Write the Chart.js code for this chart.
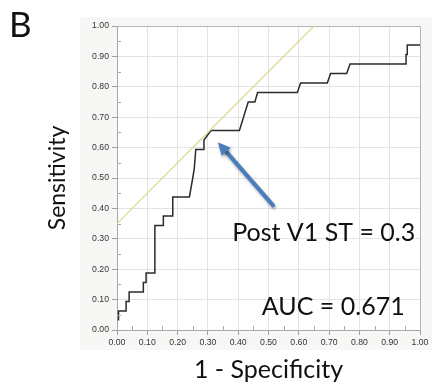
<!DOCTYPE html>
<html lang="en">
<head>
    <title>ROC - Post V1 ST</title>
    <script src="https://cdn.jsdelivr.net/npm/chart.js"></script>
    <style>
        body {
            margin: 0;
            background: #ffffff;
        }
        .chart-container {
            width: 432px;
            height: 387px;
        }
    </style>
</head>
<body>
    <div class="chart-container">
        <canvas id="rocChart"></canvas>
    </div>

    <script>
        // ROC curve (tpr in steps of 1/32)
        const rocFpr = [0.005, 0.005, 0.030, 0.030, 0.040, 0.040, 0.087, 0.087, 0.096, 0.096,
                        0.125, 0.125, 0.153, 0.153, 0.184, 0.184, 0.239, 0.250, 0.255, 0.260,
                        0.287, 0.287, 0.310, 0.404, 0.433, 0.455, 0.464, 0.595, 0.606, 0.694,
                        0.705, 0.758, 0.769, 0.954, 0.954, 0.958, 0.958, 1.000];
        const rocTpr = [0.031, 0.0625, 0.0625, 0.094, 0.094, 0.125, 0.125, 0.156, 0.156, 0.1875,
                        0.1875, 0.344, 0.344, 0.375, 0.375, 0.4375, 0.4375, 0.500, 0.531, 0.594,
                        0.594, 0.625, 0.656, 0.656, 0.750, 0.750, 0.781, 0.781, 0.8125, 0.8125,
                        0.844, 0.844, 0.875, 0.875, 0.906, 0.906, 0.9375, 0.9375];

        // tangent line through the cut-off point
        const tangentFpr = [0.00, 0.65];
        const tangentTpr = [0.35, 1.00];

        const tickValues = [0, 0.1, 0.2, 0.3, 0.4, 0.5, 0.6, 0.7, 0.8, 0.9, 1.0];

        // arrow (tail -> head) and notes, in data units
        const arrowFrom = [0.515, 0.41];
        const arrowTo = [0.333, 0.618];
        const notes = [
            { text: 'Post V1 ST = 0.3', x: 0.38, y: 0.32 },
            { text: 'AUC = 0.671', x: 0.478, y: 0.076 }
        ];
        const panelLabel = 'B';

        const toPoints = (xs, ys) => xs.map((x, i) => ({ x: x, y: ys[i] }));

        // light frame behind the plot, minor ticks, arrow and notes
        const decorations = {
            id: 'decorations',
            beforeDraw(chart) {
                const c = chart.ctx;
                c.save();
                c.fillStyle = '#f7f7f5';
                c.fillRect(80, 17, 432 - 80, 350 - 17);
                const a = chart.chartArea;
                c.fillStyle = '#ffffff';
                c.fillRect(a.left, a.top, a.right - a.left, a.bottom - a.top);
                c.restore();
            },
            afterDatasetsDraw(chart) {
                const c = chart.ctx;
                const xs = chart.scales.x, ys = chart.scales.y;
                const a = chart.chartArea;
                c.save();

                // minor ticks inside the axes
                c.strokeStyle = '#aaaaaa';
                c.lineWidth = 1;
                c.beginPath();
                tickValues.slice(0, -1).forEach(v => {
                    const px = Math.round(xs.getPixelForValue(v + 0.05)) + 0.5;
                    c.moveTo(px, a.bottom);
                    c.lineTo(px, a.bottom - 4);
                    const py = Math.round(ys.getPixelForValue(v + 0.05)) + 0.5;
                    c.moveTo(a.left, py);
                    c.lineTo(a.left + 4, py);
                });
                c.stroke();

                // arrow
                const x0 = xs.getPixelForValue(arrowFrom[0]), y0 = ys.getPixelForValue(arrowFrom[1]);
                const x1 = xs.getPixelForValue(arrowTo[0]), y1 = ys.getPixelForValue(arrowTo[1]);
                const ang = Math.atan2(y1 - y0, x1 - x0);
                const head = 14;
                c.shadowColor = 'rgba(0,0,0,0.35)';
                c.shadowBlur = 3;
                c.shadowOffsetX = 1;
                c.shadowOffsetY = 2;
                c.strokeStyle = '#4a7dbb';
                c.fillStyle = '#4a7dbb';
                c.lineWidth = 4;
                c.lineCap = 'round';
                c.beginPath();
                c.moveTo(x0, y0);
                c.lineTo(x1 - Math.cos(ang) * head * 0.8, y1 - Math.sin(ang) * head * 0.8);
                c.stroke();
                c.beginPath();
                c.moveTo(x1, y1);
                c.lineTo(x1 - head * Math.cos(ang - 0.45), y1 - head * Math.sin(ang - 0.45));
                c.lineTo(x1 - head * Math.cos(ang + 0.45), y1 - head * Math.sin(ang + 0.45));
                c.closePath();
                c.fill();
                c.shadowColor = 'transparent';

                // notes
                c.fillStyle = '#111111';
                c.font = '25px Lato';
                c.textAlign = 'left';
                c.textBaseline = 'middle';
                notes.forEach(n => {
                    c.fillText(n.text, xs.getPixelForValue(n.x), ys.getPixelForValue(n.y));
                });

                c.font = '35px Lato';
                c.textBaseline = 'top';
                c.fillText(panelLabel, 9, 8);
                c.restore();
            }
        };

        const gridColor = (ctx) => (ctx.tick && (ctx.tick.value === 1 || ctx.tick.value === 0)) ? '#b4b4b4' : '#e3e3e3';

        const tickFont = { family: 'Liberation Sans', size: 8.7 };

        const ctx = document.getElementById('rocChart').getContext('2d');
        const chart = new Chart(ctx, {
            type: 'scatter',
            data: {
                datasets: [
                    {
                        label: 'Tangent',
                        data: toPoints(tangentFpr, tangentTpr),
                        showLine: true,
                        borderColor: 'rgb(222, 217, 140)',
                        borderWidth: 1.3,
                        pointRadius: 0
                    },
                    {
                        label: 'ROC',
                        data: toPoints(rocFpr, rocTpr),
                        showLine: true,
                        borderColor: '#2b2b2b',
                        borderWidth: 1.5,
                        pointRadius: 0,
                        tension: 0
                    }
                ]
            },
            options: {
                responsive: true,
                maintainAspectRatio: false,
                animation: false,
                layout: { padding: { top: 26, right: 12, left: 0, bottom: 0 } },
                plugins: {
                    legend: { display: false },
                    tooltip: { enabled: false }
                },
                scales: {
                    x: {
                        type: 'linear',
                        min: 0,
                        max: 1,
                        afterFit: (s) => { s.height = 57; },
                        afterBuildTicks: (s) => { s.ticks = tickValues.map(v => ({ value: v })); },
                        ticks: {
                            color: '#333333',
                            font: tickFont,
                            padding: 2,
                            maxRotation: 0,
                            callback: (v) => Number(v).toFixed(2)
                        },
                        grid: { color: gridColor, tickColor: '#a0a0a0', tickLength: 5 },
                        border: { color: '#a8a8a8' },
                        title: {
                            display: true,
                            text: '1 - Specificity',
                            color: '#111111',
                            font: { family: 'Lato', size: 25 },
                            padding: { top: 0, bottom: 2 }
                        }
                    },
                    y: {
                        type: 'linear',
                        min: 0,
                        max: 1,
                        afterFit: (s) => { s.width = 117; },
                        afterBuildTicks: (s) => { s.ticks = tickValues.map(v => ({ value: v })); },
                        ticks: {
                            color: '#333333',
                            font: tickFont,
                            padding: 3,
                            callback: (v) => Number(v).toFixed(2)
                        },
                        grid: { color: gridColor, tickColor: '#a0a0a0', tickLength: 5 },
                        border: { color: '#a8a8a8' },
                        title: {
                            display: true,
                            text: 'Sensitivity',
                            color: '#111111',
                            font: { family: 'Lato', size: 23 },
                            padding: { top: 44, bottom: 0 }
                        }
                    }
                }
            },
            plugins: [decorations]
        });
    </script>
</body>
</html>
